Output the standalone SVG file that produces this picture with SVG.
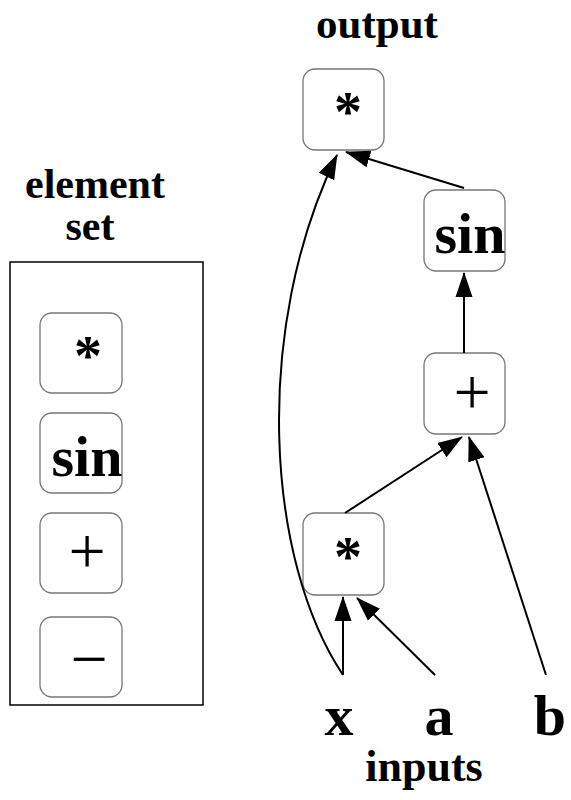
<svg xmlns="http://www.w3.org/2000/svg" width="571" height="800" viewBox="0 0 571 800">
<defs>
<style>
.box{fill:#fff;stroke:#777;stroke-width:1.3}
.lbl{font-family:"Liberation Serif","Times New Roman",serif;font-weight:bold;fill:#000}
.op{font-family:"Liberation Serif","Times New Roman",serif;fill:#000}
.edge{fill:none;stroke:#000;stroke-width:2}
</style>
<marker id="arr" markerUnits="userSpaceOnUse" markerWidth="26" markerHeight="20" viewBox="0 0 26 20" refX="24" refY="10" orient="auto">
<path d="M0,1.5 L25,10 L0,18.5 Z" fill="#000"/>
</marker>
</defs>
<rect width="571" height="800" fill="#fff"/>
<g id="element-set">
<text class="lbl" x="95" y="198" font-size="42" text-anchor="middle">element</text>
<text class="lbl" x="90" y="240" font-size="42" text-anchor="middle">set</text>
<rect x="10" y="262" width="193" height="443" fill="none" stroke="#000" stroke-width="1.5"/>
</g>
<g id="set-mul">
<rect class="box" x="40" y="313" width="82" height="80" rx="12"/>
<text class="lbl" x="88" y="375" font-size="56" text-anchor="middle">*</text>
</g>
<g id="set-sin">
<rect class="box" x="40" y="413" width="82" height="80" rx="12"/>
<text class="lbl" x="87" y="476" font-size="58" text-anchor="middle">sin</text>
</g>
<g id="set-plus">
<rect class="box" x="40" y="513" width="82" height="80" rx="12"/>
<text class="op" x="87" y="573" font-size="66" text-anchor="middle">+</text>
</g>
<g id="set-minus">
<rect class="box" x="40" y="617" width="82" height="80" rx="12"/>
<text class="op" x="89" y="681" font-size="66" text-anchor="middle">−</text>
</g>
<g id="output-label">
<text class="lbl" x="377" y="38" font-size="43" text-anchor="middle">output</text>
</g>
<g id="node-out-mul">
<rect class="box" x="303" y="69" width="81" height="81" rx="12"/>
<text class="lbl" x="348" y="131" font-size="56" text-anchor="middle">*</text>
</g>
<g id="node-sin">
<rect class="box" x="424" y="190" width="81" height="81" rx="12"/>
<text class="lbl" x="470" y="253" font-size="58" text-anchor="middle">sin</text>
</g>
<g id="node-plus">
<rect class="box" x="424" y="353" width="81" height="81" rx="12"/>
<text class="op" x="472" y="414" font-size="66" text-anchor="middle">+</text>
</g>
<g id="node-mul">
<rect class="box" x="303" y="513" width="81" height="82" rx="12"/>
<text class="lbl" x="348" y="576" font-size="56" text-anchor="middle">*</text>
</g>
<g id="input-x"><text class="lbl" x="339" y="735" font-size="58" text-anchor="middle">x</text></g>
<g id="input-a"><text class="lbl" x="439" y="735" font-size="58" text-anchor="middle">a</text></g>
<g id="input-b"><text class="lbl" x="550" y="735" font-size="58" text-anchor="middle">b</text></g>
<g id="inputs-label"><text class="lbl" x="424" y="781" font-size="44" text-anchor="middle">inputs</text></g>
<g id="connectors">
<path class="edge" d="M343,675 L343,597" marker-end="url(#arr)"/>
<path class="edge" d="M435,675 L357,598" marker-end="url(#arr)"/>
<path class="edge" d="M546,675 L469,437" marker-end="url(#arr)"/>
<path class="edge" d="M345,513 L462,437" marker-end="url(#arr)"/>
<path class="edge" d="M464,353 L464,273" marker-end="url(#arr)"/>
<path class="edge" d="M464,188 L346,152" marker-end="url(#arr)"/>
<path class="edge" d="M343,675 C266,560 252,330 337,155" marker-end="url(#arr)"/>
</g>
</svg>
